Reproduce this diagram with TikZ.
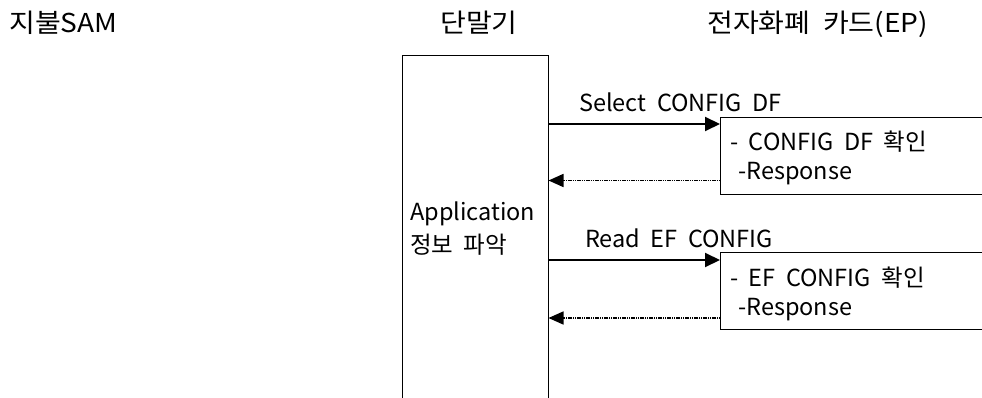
\documentclass[tikz,border=0pt]{standalone}
\usepackage{fontspec}
\setmainfont{Noto Sans CJK KR}
\newfontfamily\bodyfont{Noto Sans CJK KR}
\newfontfamily\headfont[FakeStretch=1.08]{Noto Sans CJK KR}
\usetikzlibrary{arrows.meta}
\begin{document}
\begin{tikzpicture}[x=1pt,y=-1pt,
  lbl/.style={font=\bodyfont\fontsize{23.5}{26}\selectfont, inner sep=0pt, anchor=base west},
  head/.style={font=\headfont\fontsize{26}{29}\selectfont, inner sep=0pt, anchor=base west},
  req/.style={line width=2pt, -{Triangle[length=15pt,width=14pt]}},
  resp/.style={line width=1.6pt, dash pattern=on 1.2pt off 0.6pt, -{Triangle[length=15pt,width=13pt]}},
  frame/.style={line width=0.8pt}]
\useasboundingbox (0,0) rectangle (982,398);
% headers
\node[head] (sam) at (9,33) {지불SAM};
\node[head] (term) at (440,33) {단말기};
\node[head] (card) at (707,33) {전자화폐~~카드(EP)};
% terminal box (open at bottom)
\coordinate (tbl) at (402.5,400);
\coordinate (ttl) at (402.5,55.5);
\coordinate (ttr) at (548,55.5);
\coordinate (tbr) at (548,400);
\draw[frame] (tbl) -- (ttl) -- (ttr) -- (tbr);
\node[lbl] (app) at (410,220) {Application};
\node[lbl] (info) at (410,253) {정보~~파악};
% card box 1
\coordinate (b1tr) at (985,117.5);
\coordinate (b1tl) at (720.5,117.5);
\coordinate (b1bl) at (720.5,194);
\coordinate (b1br) at (985,194);
\draw[frame] (b1tr) -- (b1tl) -- (b1bl) -- (b1br);
\node[lbl] (c1a) at (730,151) {-~~CONFIG~~DF~~확인};
\node[lbl] (c1b) at (738,180) {-Response};
% card box 2
\coordinate (b2tr) at (985,252.5);
\coordinate (b2tl) at (720.5,252.5);
\coordinate (b2bl) at (720.5,329);
\coordinate (b2br) at (985,329);
\draw[frame] (b2tr) -- (b2tl) -- (b2bl) -- (b2br);
\node[lbl] (c2a) at (730,286) {-~~EF~~CONFIG~~확인};
\node[lbl] (c2b) at (738,315) {-Response};
% messages
\coordinate (s1) at (548,124);
\coordinate (e1) at (720,124);
\draw[req] (s1) -- (e1);
\node[lbl] (m1) at (579,112) {Select~~CONFIG~~DF};
\coordinate (r1s) at (720,180.5);
\coordinate (r1e) at (548.5,180.5);
\draw[resp] (r1s) -- (r1e);
\coordinate (s2) at (548,260);
\coordinate (e2) at (720,260);
\draw[req] (s2) -- (e2);
\node[lbl] (m2) at (585,247) {Read~~EF~~CONFIG};
\coordinate (r2s) at (720,318);
\coordinate (r2e) at (548.5,318);
\draw[resp] (r2s) -- (r2e);
\end{tikzpicture}
\end{document}
